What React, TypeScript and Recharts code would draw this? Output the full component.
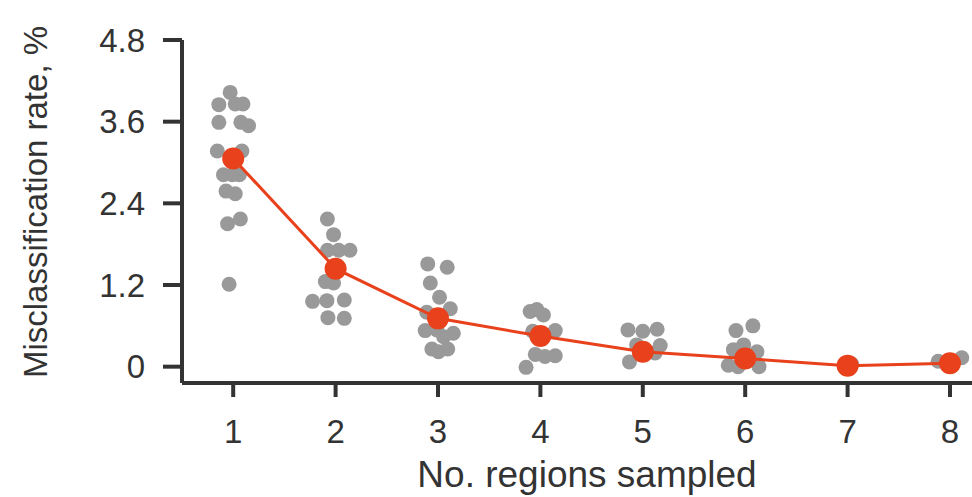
import React from "react";
import {
  ScatterChart,
  Scatter,
  XAxis,
  YAxis,
} from "recharts";

const regions = [1, 2, 3, 4, 5, 6, 7, 8];
const meanRate = [3.06, 1.44, 0.71, 0.45, 0.22, 0.12, 0.015, 0.05];

// misclassification rate of each run, grouped by number of regions
const runRates: number[][] = [
  [4.03, 3.85, 3.86, 3.86, 3.59, 3.59, 3.54, 3.17, 3.17, 2.82, 2.82, 2.82, 2.58, 2.54, 2.1, 2.17, 1.21],
  [2.17, 1.94, 1.71, 1.71, 1.71, 1.25, 1.23, 0.96, 0.97, 0.98, 0.72, 0.71],
  [1.51, 1.46, 1.23, 1.02, 0.8, 0.85, 0.53, 0.54, 0.44, 0.49, 0.26, 0.22, 0.26],
  [0.81, 0.84, 0.76, 0.52, 0.53, 0.18, 0.15, 0.16, -0.01],
  [0.54, 0.52, 0.55, 0.32, 0.31, 0.07, 0.2],
  [0.53, 0.6, 0.32, 0.25, 0.22, 0.02, 0.0, 0.0],
  [0.04, 0.0],
  [0.13, 0.08],
];

// horizontal jitter of the strip plot
const runJitter: number[][] = [
  [-0.03, -0.14, 0.02, 0.095, -0.14, 0.075, 0.15, -0.155, 0.085, -0.095, -0.01, 0.06, -0.07, 0.02, -0.055, 0.07, -0.04],
  [-0.08, -0.02, -0.08, 0.03, 0.14, -0.1, -0.02, -0.225, -0.085, 0.085, -0.075, 0.085],
  [-0.1, 0.09, -0.075, 0.015, -0.11, 0.12, -0.125, -0.01, 0.055, 0.15, -0.06, 0.005, 0.095],
  [-0.1, -0.035, 0.03, -0.075, 0.145, -0.05, 0.045, 0.145, -0.14],
  [-0.145, 0.0, 0.14, -0.06, 0.17, -0.13, 0.12],
  [-0.09, 0.075, -0.015, -0.115, 0.115, -0.165, -0.07, 0.135],
  [0.04, -0.02],
  [0.115, -0.115],
];

const yTicks = [0, 1.2, 2.4, 3.6, 4.8];

const runPoints = regions.flatMap((r, i) =>
  runRates[i].map((v, j) => ({ x: r + runJitter[i][j], y: v }))
);
const meanPoints = regions.map((r, i) => ({ x: r, y: meanRate[i] }));

const GREY = "#999999";
const RED = "#e8411b";
const INK = "#333333";
const FONT = "'Liberation Sans', Arial, sans-serif";

const YTick = (props: any) => {
  const { x, y, payload } = props;
  return (
    <text x={x} y={y} textAnchor="end" dominantBaseline="central" fontSize={33} fill={INK} fontFamily={FONT}>
      {payload.value === 0 ? "0" : payload.value.toFixed(1)}
    </text>
  );
};

const XTick = (props: any) => {
  const { x, y, payload } = props;
  return (
    <text x={x} y={y + 44} textAnchor="middle" fontSize={33} fill={INK} fontFamily={FONT}>
      {payload.value}
    </text>
  );
};

export default function App() {
  return (
    <div style={{ position: "absolute", left: 0, top: 0, background: "#fff" }}>
      <ScatterChart width={972} height={497} margin={{ top: 40, right: 0, bottom: 0, left: 0 }}>
        <XAxis
          type="number"
          dataKey="x"
          domain={[0.5, 8.215]}
          ticks={regions}
          allowDataOverflow
          height={114}
          stroke={INK}
          strokeWidth={4}
          tickSize={14}
          tickLine={{ stroke: INK, strokeWidth: 4 }}
          tick={<XTick />}
          label={(p: any) => (
            <text
              x={p.viewBox.x + p.viewBox.width / 2 + 10}
              y={487}
              textAnchor="middle"
              fontSize={37}
              fill={INK}
              fontFamily={FONT}
            >
              No. regions sampled
            </text>
          )}
        />
        <YAxis
          type="number"
          dataKey="y"
          domain={[-0.24, 4.8]}
          ticks={yTicks}
          allowDataOverflow
          width={182}
          stroke={INK}
          strokeWidth={4}
          tickSize={19}
          tickMargin={18}
          tickLine={{ stroke: INK, strokeWidth: 4 }}
          tick={<YTick />}
          label={(p: any) => (
            <text
              x={47}
              y={202}
              transform="rotate(-90 47 202)"
              textAnchor="middle"
              fontSize={33}
              fill={INK}
              fontFamily={FONT}
            >
              Misclassification rate, %
            </text>
          )}
        />
        <Scatter
          data={runPoints}
          isAnimationActive={false}
          shape={(p: any) => <circle cx={p.cx} cy={p.cy} r={7.5} fill={GREY} />}
        />
        <Scatter
          data={meanPoints}
          isAnimationActive={false}
          line={{ stroke: RED, strokeWidth: 3 }}
          shape={(p: any) => <circle cx={p.cx} cy={p.cy} r={11} fill={RED} />}
        />
      </ScatterChart>
    </div>
  );
}
